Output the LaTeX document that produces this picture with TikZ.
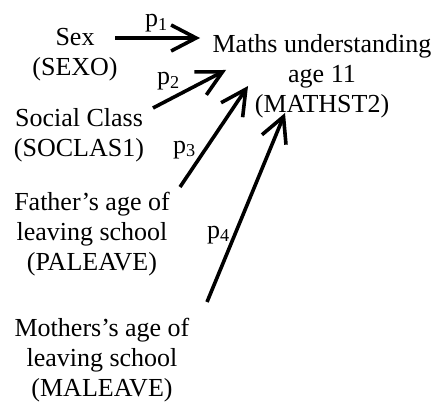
\documentclass[tikz,border=0pt]{standalone}
\usepackage{fontspec}
\setmainfont{Liberation Serif}
\usetikzlibrary{arrows.meta}

\begin{document}
\begin{tikzpicture}[
    x=1pt, y=-1pt,
    varbox/.style={align=center, anchor=north, inner sep=0pt, font=\fontsize{26}{30}\selectfont},
    coef/.style={anchor=base west, inner sep=0pt, font=\fontsize{26}{30}\selectfont},
    effect/.style={-{Straight Barb[length=25pt, width=26pt]}, line width=3.6pt}
]
    \useasboundingbox (0,0) rectangle (435,406);

    \node[varbox] (sex) at (75,28.5) {Sex\\(SEXO)};
    \node[varbox] (maths) at (322,34.3) {Maths understanding\\age 11\\(MATHST2)};
    \node[varbox] (soclas) at (79,108.3) {Social Class\\(SOCLAS1)};
    \node[varbox] (paleave) at (92,191.5) {Father’s age of\\leaving school\\(PALEAVE)};
    \node[varbox] (maleave) at (102,318.3) {Mothers’s age of\\leaving school\\(MALEAVE)};

    \coordinate (s1) at (115,38);
    \coordinate (t1) at (200,38);
    \coordinate (s2) at (153,108);
    \coordinate (t2) at (226,70);
    \coordinate (s3) at (180,187);
    \coordinate (t3) at (248,86);
    \coordinate (s4) at (207,302);
    \coordinate (t4) at (285,113);

    \draw[effect] (s1) -- (t1);
    \draw[effect] (s2) -- (t2);
    \draw[effect] (s3) -- (t3);
    \draw[effect] (s4) -- (t4);

    \node[coef] (p1) at (145,27) {p\textsubscript{1}};
    \node[coef] (p2) at (157,85) {p\textsubscript{2}};
    \node[coef] (p3) at (173,153) {p\textsubscript{3}};
    \node[coef] (p4) at (207,238) {p\textsubscript{4}};
\end{tikzpicture}
\end{document}
